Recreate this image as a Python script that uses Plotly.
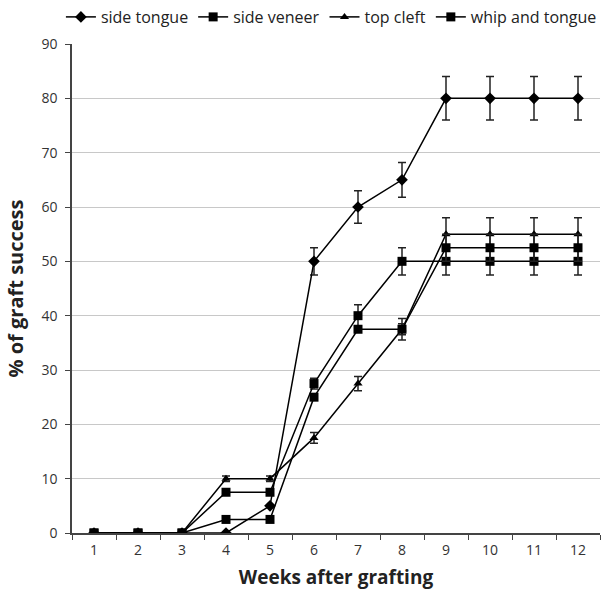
import plotly.graph_objects as go

weeks = ["1", "2", "3", "4", "5", "6", "7", "8", "9", "10", "11", "12"]

side_tongue = [0, 0, 0, 0, 5, 50, 60, 65, 80, 80, 80, 80]
side_tongue_err = [0, 0, 0, 0, 0, 2.5, 3, 3.2, 4, 4, 4, 4]

side_veneer = [0, 0, 0, 7.5, 7.5, 27.5, 40, 50, 50, 50, 50, 50]
side_veneer_err = [0, 0, 0, 0.5, 0.5, 1, 2, 2.5, 2.5, 2.5, 2.5, 2.5]

top_cleft = [0, 0, 0, 10, 10, 17.5, 27.5, 37.5, 55, 55, 55, 55]
top_cleft_err = [0, 0, 0, 0.5, 0.5, 1, 1.3, 2, 3, 3, 3, 3]

whip_tongue = [0, 0, 0, 2.5, 2.5, 25, 37.5, 37.5, 52.5, 52.5, 52.5, 52.5]
whip_tongue_err = [0, 0, 0, 0.3, 0.3, 0.5, 0.5, 1, 2.5, 2.5, 2.5, 2.5]

series = [
    ("side tongue", side_tongue, side_tongue_err, "diamond", 9),
    ("side veneer", side_veneer, side_veneer_err, "square", 9),
    ("top cleft", top_cleft, top_cleft_err, "triangle-up", 8),
    ("whip and tongue", whip_tongue, whip_tongue_err, "square", 9),
]

fig = go.Figure()
for name, vals, err, sym, size in series:
    fig.add_trace(go.Scatter(
        x=weeks, y=vals, name=name, mode="lines+markers",
        line=dict(color="black", width=1.5),
        marker=dict(symbol=sym, size=size, color="black"),
        error_y=dict(type="data", array=err, visible=True,
                     color="#222222", thickness=1.5, width=4),
    ))

font_family = "Open Sans, Noto Sans, sans-serif"
fig.update_layout(
    width=613, height=594,
    margin=dict(l=72, r=13, t=44, b=61, autoexpand=False),
    plot_bgcolor="white", paper_bgcolor="white",
    font=dict(family=font_family, size=14, color="#333333"),
    showlegend=True,
    legend=dict(orientation="h", x=-0.021, xanchor="left", y=1.09, yanchor="top",
                font=dict(size=16, color="#222222"), itemwidth=30,
                traceorder="normal", tracegroupgap=0),
    xaxis=dict(type="category", range=[-0.5, 11.5], tickson="boundaries",
               ticks="outside", ticklen=5,
               tickcolor="#444444", showline=True, linecolor="#444444", linewidth=1.5,
               showgrid=False, automargin=True, ticklabelstandoff=3,
               title=dict(text="<b>Weeks after grafting</b>", font=dict(size=19, color="#222222"),
                          standoff=13)),
    yaxis=dict(range=[0, 90], dtick=10, ticks="outside", ticklen=5,
               tickcolor="#444444", showline=True, linecolor="#444444", linewidth=1.5,
               showgrid=True, gridcolor="#c8c8c8", gridwidth=1.2, zeroline=False,
               automargin=True, ticklabelstandoff=5,
               title=dict(text="<b>% of graft success</b>", font=dict(size=20, color="#222222"),
                          standoff=12)),
)

fig.write_html("out.html", config={"displayModeBar": False},
               post_script="document.body.style.margin='0';")
